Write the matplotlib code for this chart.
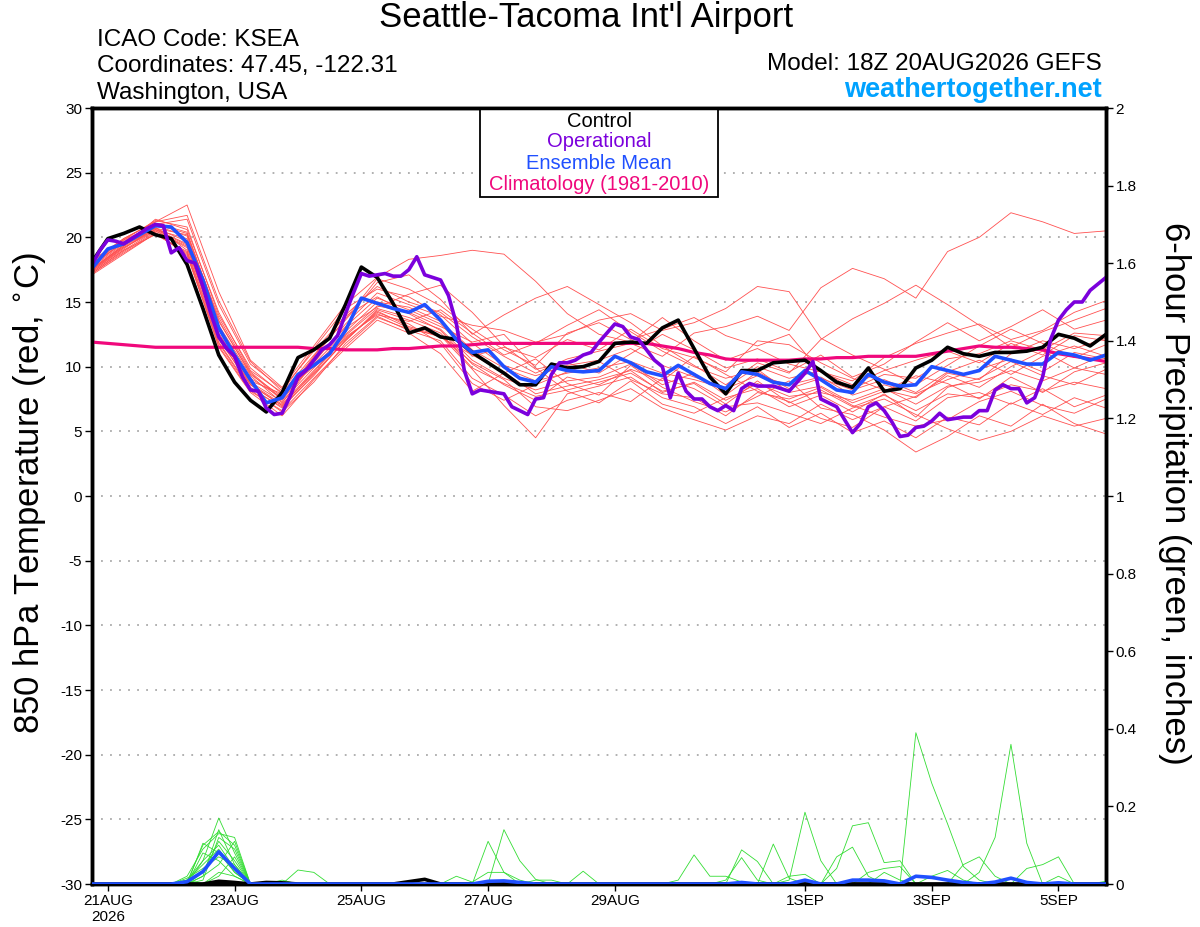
import numpy as np
import pandas as pd
import matplotlib
matplotlib.use('Agg')
import matplotlib.pyplot as plt
from matplotlib.patches import Rectangle

plt.rcParams['font.family'] = ['Liberation Sans', 'DejaVu Sans']
plt.rcParams['axes.unicode_minus'] = False
NARROW = ['Liberation Sans Narrow', 'Liberation Sans', 'DejaVu Sans']

# ---------------- data ----------------
t6 = pd.date_range('2026-08-20 18:00', periods=65, freq='6h')
t3 = pd.date_range('2026-08-20 18:00', periods=129, freq='3h')
t12 = pd.date_range('2026-08-20 18:00', periods=33, freq='12h')

control_t = [18.1, 19.9, 20.3, 20.8, 20.2, 19.9, 17.9, 14.5, 10.9, 8.8,
             7.4, 6.5, 8.0, 10.7, 11.3, 12.2, 14.8, 17.7, 16.9, 14.9,
             12.6, 13.0, 12.3, 12.1, 11.1, 10.3, 9.5, 8.6, 8.6, 10.2,
             9.9, 10.0, 10.4, 11.8, 11.9, 11.8, 13.0, 13.6, 11.4, 9.2,
             7.9, 9.7, 9.7, 10.3, 10.4, 10.5, 9.7, 8.8, 8.4, 9.9,
             8.1, 8.3, 9.9, 10.5, 11.5, 11.0, 10.8, 11.1, 11.1, 11.2,
             11.5, 12.5, 12.2, 11.6, 12.5]

mean_t = [17.6, 19.1, 19.5, 20.2, 20.9, 20.8, 19.6, 16.7, 13.0, 10.9,
          9.0, 7.2, 7.6, 9.4, 10.1, 11.0, 12.8, 15.3, 14.9, 14.5,
          14.2, 14.8, 13.6, 12.1, 11.1, 11.3, 10.0, 9.1, 8.8, 10.0,
          9.7, 9.6, 9.7, 10.8, 10.3, 9.6, 9.3, 10.1, 9.4, 8.7,
          8.3, 9.6, 9.4, 8.8, 8.6, 9.7, 9.0, 8.2, 8.0, 9.4,
          8.8, 8.5, 8.6, 10.0, 9.7, 9.4, 9.7, 10.8, 10.5, 10.2,
          10.2, 11.1, 10.9, 10.5, 10.9]

clim_t = [11.9, 11.8, 11.7, 11.6, 11.5, 11.5, 11.5, 11.5, 11.5, 11.5,
          11.5, 11.5, 11.5, 11.5, 11.4, 11.4, 11.3, 11.3, 11.3, 11.4,
          11.4, 11.5, 11.6, 11.6, 11.7, 11.8, 11.8, 11.8, 11.8, 11.8,
          11.8, 11.8, 11.8, 11.8, 11.8, 11.8, 11.6, 11.4, 11.1, 10.9,
          10.6, 10.5, 10.5, 10.5, 10.5, 10.6, 10.6, 10.7, 10.7, 10.8,
          10.8, 10.8, 10.8, 11.0, 11.2, 11.4, 11.6, 11.5, 11.5, 11.4,
          11.3, 11.0, 10.8, 10.6, 10.4]

# operational run, 3-hourly
oper_t = [17.9, 19.0, 19.8, 19.7, 19.5, 19.9, 20.3, 20.7, 21.0, 20.9,
          18.8, 19.2, 18.2, 18.0, 16.2, 14.1, 12.3, 11.4, 10.8, 9.2,
          8.2, 8.1, 6.8, 6.3, 6.4, 7.7, 9.2, 9.7, 10.5, 11.3,
          11.7, 12.4, 14.1, 15.7, 17.2, 17.0, 17.1, 17.2, 17.0, 17.0,
          17.5, 18.5, 17.1, 16.9, 16.7, 15.5, 13.3, 9.7, 7.9, 8.2,
          8.1, 8.0, 7.9, 6.9, 6.6, 6.3, 7.5, 7.6, 9.4, 10.3,
          10.3, 10.5, 10.9, 11.1, 11.9, 12.6, 13.3, 13.1, 12.3, 12.1,
          11.3, 10.5, 10.0, 7.6, 9.5, 8.1, 7.5, 7.5, 6.9, 6.6,
          7.0, 6.6, 8.3, 8.7, 8.5, 8.5, 8.5, 8.3, 8.1, 8.8,
          9.5, 10.4, 7.5, 7.2, 6.9, 5.9, 4.9, 5.6, 6.9, 7.2,
          6.6, 5.7, 4.6, 4.7, 5.3, 5.4, 5.8, 6.4, 5.9, 6.0,
          6.1, 6.1, 6.6, 6.6, 8.2, 8.6, 8.3, 8.3, 7.2, 7.6,
          9.2, 12.1, 13.6, 14.4, 15.0, 15.0, 15.9, 16.4, 16.9]

# ensemble members, 12-hourly
m01 = [17.9, 19.6, 20.7, 20.2, 13.8, 9.6, 7.5, 10.8, 14.0, 16.2, 15.0, 14.2, 12.3, 10.8, 9.5, 10.6, 11.2,
       11.8, 10.8, 12.6, 13.1, 13.9, 12.8, 16.1, 17.6, 16.8, 15.3, 18.9, 20.0, 21.9, 21.2, 20.3, 20.5]
m02 = [18.2, 19.9, 21.2, 22.5, 15.8, 10.5, 8.4, 11.6, 14.8, 16.9, 18.3, 18.6, 19.0, 18.7, 16.6, 14.1, 12.5,
       11.9, 13.8, 12.0, 10.5, 11.4, 10.2, 9.6, 8.9, 10.7, 11.8, 12.6, 13.3, 12.1, 12.8, 14.2, 15.1]
m03 = [17.3, 19.0, 20.5, 19.3, 12.3, 8.4, 6.8, 9.4, 12.0, 14.3, 13.1, 12.4, 9.8, 7.0, 4.5, 7.9, 8.5,
       9.2, 7.6, 6.9, 5.6, 6.9, 5.3, 6.4, 4.9, 5.8, 4.5, 6.1, 5.5, 7.2, 6.3, 7.6, 6.8]
m04 = [17.6, 19.3, 21.4, 20.6, 14.2, 9.7, 8.0, 10.9, 13.6, 16.5, 17.1, 15.2, 12.5, 14.0, 15.3, 16.2, 14.8,
       13.4, 11.6, 10.1, 8.6, 10.3, 9.5, 12.1, 13.7, 14.9, 16.3, 14.8, 13.2, 11.5, 12.7, 13.6, 14.5]
m05 = [17.1, 18.7, 20.3, 18.8, 11.5, 8.0, 6.2, 9.0, 11.4, 13.6, 12.6, 11.0, 8.1, 9.5, 10.6, 8.7, 7.8,
       10.1, 8.4, 7.3, 6.5, 7.7, 8.9, 6.8, 6.3, 5.1, 3.4, 4.6, 6.2, 5.4, 7.1, 5.6, 4.8]
m06 = [18.0, 19.8, 20.9, 20.1, 13.2, 9.3, 7.2, 10.3, 13.3, 15.7, 14.8, 13.9, 13.2, 12.8, 11.9, 12.5, 13.6,
       14.1, 12.8, 13.4, 14.5, 16.2, 15.8, 12.2, 10.9, 9.8, 8.6, 10.1, 11.6, 12.9, 11.8, 10.7, 11.7]
m07 = [17.5, 19.4, 20.6, 19.9, 12.9, 8.9, 7.9, 10.0, 12.5, 14.7, 14.2, 13.1, 11.9, 12.5, 9.9, 8.1, 7.2,
       8.9, 7.1, 6.4, 7.6, 8.3, 6.9, 7.8, 6.5, 7.9, 6.1, 8.4, 9.1, 10.4, 9.3, 8.6, 9.8]
m08 = [17.4, 19.1, 20.8, 19.0, 12.1, 8.6, 7.0, 9.6, 12.3, 14.0, 13.5, 14.4, 12.6, 10.9, 11.8, 13.2, 14.4,
       12.7, 11.2, 10.0, 9.1, 9.8, 8.0, 8.5, 7.2, 8.1, 9.3, 8.7, 7.5, 9.2, 8.0, 9.6, 10.3]
m09 = [17.8, 19.7, 21.0, 21.4, 14.8, 10.2, 8.3, 11.2, 13.9, 15.4, 14.1, 12.8, 10.2, 8.6, 7.4, 9.2, 8.6,
       9.8, 8.9, 10.8, 9.4, 8.1, 7.3, 6.0, 5.3, 6.9, 7.7, 9.3, 8.4, 10.0, 11.2, 9.9, 11.0]
m10 = [17.2, 18.9, 20.4, 18.6, 11.8, 8.2, 6.5, 8.8, 11.8, 13.9, 12.8, 12.0, 9.1, 7.8, 6.2, 7.4, 8.0,
       7.3, 9.1, 8.3, 6.9, 7.2, 6.4, 5.6, 6.8, 7.5, 6.3, 5.2, 4.3, 5.0, 6.2, 5.4, 6.0]
m11 = [17.7, 19.5, 21.1, 20.4, 13.6, 9.4, 7.7, 10.6, 13.0, 14.6, 15.6, 16.3, 14.2, 11.6, 9.8, 10.3, 9.5,
       11.0, 12.5, 11.3, 9.9, 10.6, 9.6, 10.9, 9.2, 10.2, 11.9, 13.4, 12.0, 13.1, 14.4, 12.9, 13.6]
m12 = [17.5, 19.2, 20.6, 19.5, 12.6, 8.8, 7.3, 9.9, 12.4, 14.5, 13.8, 12.9, 10.5, 9.1, 8.2, 8.9, 9.2,
       10.2, 8.6, 9.5, 7.8, 9.6, 8.3, 9.1, 8.2, 9.0, 8.0, 9.6, 10.5, 9.4, 10.8, 11.6, 10.8]
m13 = [17.3, 19.0, 20.2, 18.9, 11.9, 8.3, 6.9, 9.3, 12.1, 14.2, 13.3, 11.8, 8.7, 7.4, 8.6, 9.6, 10.4,
       9.0, 7.9, 7.6, 6.2, 8.0, 7.5, 8.4, 7.0, 6.1, 5.4, 5.9, 7.3, 8.1, 7.0, 6.4, 7.5]
m14 = [17.9, 19.8, 21.3, 20.8, 14.0, 9.9, 7.9, 10.7, 13.7, 16.8, 16.0, 14.7, 12.9, 11.3, 10.1, 12.6, 13.4,
       12.1, 12.9, 13.8, 12.4, 11.6, 12.5, 9.6, 8.6, 9.7, 10.5, 11.2, 10.3, 11.8, 10.9, 12.4, 12.0]
m15 = [17.6, 19.4, 20.7, 19.7, 13.0, 9.1, 7.6, 10.2, 12.7, 15.0, 14.6, 13.5, 11.3, 9.9, 8.9, 9.5, 9.9,
       10.4, 9.5, 9.0, 8.3, 9.3, 8.6, 9.2, 7.8, 8.6, 7.9, 9.0, 9.8, 10.6, 9.6, 11.1, 10.6]
m16 = [17.4, 19.2, 20.5, 19.2, 12.4, 8.7, 7.1, 9.7, 12.2, 14.1, 13.0, 12.3, 10.9, 9.6, 7.9, 8.5, 9.0,
       9.7, 8.0, 8.8, 7.4, 8.7, 7.7, 8.0, 7.4, 8.3, 7.1, 8.5, 8.8, 9.7, 8.9, 9.9, 9.4]
m17 = [17.8, 19.6, 21.0, 20.3, 13.5, 9.5, 7.4, 10.4, 13.1, 15.3, 14.4, 13.3, 10.8, 11.5, 10.7, 12.1, 11.3,
       12.9, 11.4, 10.7, 9.6, 12.0, 11.7, 10.3, 9.1, 8.2, 7.6, 9.5, 9.0, 11.0, 12.0, 11.4, 12.2]
m18 = [17.2, 18.8, 20.3, 18.7, 11.6, 8.1, 6.6, 9.1, 11.6, 13.8, 12.9, 12.4, 10.3, 9.0, 6.9, 6.6, 7.4,
       8.3, 6.8, 5.9, 5.1, 6.2, 5.6, 7.1, 5.9, 6.9, 5.8, 7.6, 8.0, 7.1, 8.3, 6.9, 7.8]
m19 = [18.1, 19.9, 21.2, 21.7, 15.1, 10.4, 8.1, 11.4, 14.5, 16.0, 15.4, 14.0, 11.8, 10.1, 9.3, 10.1, 10.5,
       11.4, 10.1, 9.2, 8.4, 10.0, 9.1, 9.7, 8.3, 9.4, 9.1, 10.6, 11.0, 12.0, 11.3, 12.6, 12.4]
m20 = [17.5, 19.3, 20.6, 19.4, 12.5, 8.6, 7.0, 9.5, 12.0, 14.4, 13.6, 12.6, 9.9, 8.7, 7.7, 8.2, 8.8,
       9.5, 8.1, 8.7, 7.1, 8.9, 7.2, 8.2, 6.9, 7.8, 6.6, 7.9, 7.6, 8.6, 8.1, 8.8, 8.3]
members_t = [m01, m02, m03, m04, m05, m06, m07, m08, m09, m10,
             m11, m12, m13, m14, m15, m16, m17, m18, m19, m20]

# 6-hour precipitation (inches), members, 6-hourly
g01 = [0, 0, 0, 0, 0,  0, .01, .06, .17, .08,  0, 0, 0, .036, .03,  0, 0, 0, 0, 0,
       0, 0, 0, 0, 0,  0, 0, 0, 0, 0,  0, 0, 0, 0, 0,  0, 0, 0, 0, 0,
       0, 0, 0, 0, 0,  0, 0, 0, 0, 0,  0, 0, .39, .26, .155,  .045, .01, 0, 0, 0,  0, 0, 0, 0, 0]
g02 = [0, 0, 0, 0, 0,  0, .005, .10, .135, .10,  0, 0, .01, 0, 0,  0, 0, 0, 0, 0,
       0, 0, 0, 0, 0,  0, 0, 0, 0, 0,  0, 0, 0, 0, 0,  0, 0, 0, 0, 0,
       0, 0, 0, 0, 0,  0, 0, 0, 0, 0,  0, 0, 0, .02, .035,  .01, 0, 0, 0, 0,  0, 0, 0, 0, 0]
g03 = [0, 0, 0, 0, 0,  0, .02, .09, .13, .12,  0, 0, 0, 0, 0,  0, 0, 0, 0, 0,
       0, 0, 0, 0, 0,  .11, .03, 0, 0, 0,  0, 0, 0, 0, 0,  0, 0, 0, 0, 0,
       0, 0, 0, 0, 0,  0, 0, 0, 0, 0,  0, 0, 0, 0, 0,  .05, .07, .02, 0, 0,  0, 0, 0, 0, 0]
g04 = [0, 0, 0, 0, 0,  0, 0, .03, .11, .06,  0, 0, 0, 0, 0,  0, 0, 0, 0, 0,
       0, 0, 0, 0, 0,  0, .14, .06, .012, 0,  0, 0, 0, 0, 0,  0, 0, 0, 0, 0,
       0, 0, 0, 0, 0,  0, 0, 0, 0, 0,  0, 0, 0, 0, 0,  0, .03, .12, .36, .105,  0, 0, 0, 0, 0]
g05 = [0, 0, 0, 0, 0,  0, .01, .05, .09, .03,  0, 0, 0, 0, 0,  0, 0, 0, 0, 0,
       0, 0, 0, .02, .005,  .03, .03, .01, 0, 0,  0, 0, 0, 0, 0,  0, 0, 0, 0, 0,
       0, 0, 0, 0, 0,  0, 0, 0, 0, 0,  0, 0, 0, 0, 0,  0, 0, 0, 0, .04,  .05, .07, 0, 0, 0]
g06 = [0, 0, 0, 0, 0,  0, 0, .08, .06, .02,  0, 0, 0, 0, 0,  0, 0, 0, 0, 0,
       0, 0, 0, 0, 0,  0, 0, 0, 0, 0,  0, .033, 0, 0, 0,  0, 0, 0, 0, 0,
       0, 0, 0, 0, 0,  0, 0, 0, 0, 0,  .03, .01, 0, 0, 0,  0, 0, 0, 0, 0,  0, .02, 0, 0, .007]
g07 = [0, 0, 0, 0, 0,  0, 0, .01, .12, .09,  0, 0, 0, 0, 0,  0, 0, 0, 0, 0,
       0, 0, 0, 0, 0,  0, 0, 0, .01, .01,  0, 0, 0, 0, 0,  0, 0, 0, 0, 0,
       0, 0, 0, 0, .02,  .025, 0, 0, 0, .03,  .04, .045, 0, 0, 0,  0, 0, 0, 0, 0,  0, 0, 0, 0, 0]
g08 = [0, 0, 0, 0, 0,  0, .015, .04, .07, .05,  0, 0, 0, 0, 0,  0, 0, 0, 0, 0,
       0, 0, 0, 0, 0,  0, 0, 0, 0, 0,  0, 0, 0, 0, 0,  0, 0, .01, .075, .02,
       .02, .005, 0, 0, 0,  0, 0, 0, 0, 0,  0, 0, 0, 0, 0,  0, 0, 0, 0, 0,  0, 0, 0, 0, 0]
g09 = [0, 0, 0, 0, 0,  0, 0, .02, .05, .11,  0, 0, 0, 0, 0,  0, 0, 0, 0, 0,
       0, 0, 0, 0, 0,  0, 0, 0, 0, 0,  0, 0, 0, 0, 0,  0, 0, 0, 0, 0,
       0, .088, .058, 0, 0,  0, 0, 0, 0, 0,  0, 0, 0, 0, 0,  0, 0, 0, 0, 0,  0, 0, 0, 0, 0]
g10 = [0, 0, 0, 0, 0,  0, 0, .06, .10, .04,  0, 0, 0, 0, 0,  0, 0, 0, 0, 0,
       0, 0, 0, 0, 0,  0, 0, 0, 0, 0,  0, 0, 0, 0, 0,  0, 0, 0, 0, 0,
       0, 0, 0, .103, .015,  0, 0, 0, 0, 0,  0, 0, 0, 0, 0,  0, 0, 0, 0, 0,  0, 0, 0, 0, 0]
g11 = [0, 0, 0, 0, 0,  0, 0, 0, .03, .02,  0, 0, 0, 0, 0,  0, 0, 0, 0, 0,
       0, 0, 0, 0, 0,  0, 0, 0, 0, 0,  0, 0, 0, 0, 0,  0, 0, 0, 0, 0,
       .01, .068, .01, 0, 0,  0, 0, 0, 0, 0,  0, 0, 0, 0, 0,  0, 0, 0, 0, 0,  0, 0, 0, 0, 0]
g12 = [0, 0, 0, 0, 0,  0, 0, .105, .08, .03,  0, 0, 0, 0, 0,  0, 0, 0, 0, 0,
       0, 0, 0, 0, 0,  0, 0, 0, 0, 0,  0, 0, 0, 0, 0,  0, 0, 0, 0, 0,
       0, 0, 0, 0, .01,  .185, .06, 0, 0, 0,  0, 0, 0, 0, 0,  0, 0, 0, 0, 0,  0, 0, 0, 0, 0]
g13 = [0, 0, 0, 0, 0,  0, .01, 0, .02, .07,  0, 0, 0, 0, 0,  0, 0, 0, 0, 0,
       0, 0, 0, 0, 0,  0, 0, 0, 0, 0,  0, 0, 0, 0, 0,  0, 0, 0, 0, 0,
       0, 0, 0, 0, 0,  0, 0, .07, .095, .02,  0, 0, 0, 0, 0,  0, 0, 0, 0, 0,  0, 0, 0, 0, 0]
g14 = [0, 0, 0, 0, 0,  0, 0, .02, .14, .05,  0, 0, 0, 0, 0,  0, 0, 0, 0, 0,
       0, 0, 0, 0, 0,  0, 0, 0, 0, 0,  0, 0, 0, 0, 0,  0, 0, 0, 0, 0,
       0, 0, 0, 0, 0,  0, 0, .04, .15, .158,  .055, .06, 0, 0, 0,  0, 0, 0, 0, 0,  0, 0, 0, 0, 0]
members_p = [g01, g02, g03, g04, g05, g06, g07, g08, g09, g10, g11, g12, g13, g14]

mean_p = [0, 0, 0, 0, 0,  0, .006, .032, .083, .04,  0, 0, 0, 0, 0,  0, 0, 0, 0, 0,
          0, 0, 0, 0, 0,  .007, .008, .004, 0, 0,  0, 0, 0, 0, 0,  0, 0, 0, 0, 0,
          0, .004, 0, 0, 0,  .01, 0, 0, .01, .01,  .008, 0, .02, .017, .01,
          .004, 0, .005, .015, .004,  0, .003, 0, 0, 0]
control_p = [0, 0, 0, 0, 0,  0, 0, 0, .007, .004,  0, .004, .003, 0, 0,  0, 0, 0, 0, 0,
             .006, .012, 0, 0, 0,  0, 0, 0, 0, 0,  0, 0, 0, 0, 0,  0, 0, 0, 0, 0,
             0, 0, 0, 0, 0,  0, 0, 0, 0, 0,  0, 0, 0, 0, 0,  0, 0, 0, 0, 0,  0, 0, 0, 0, 0]

tick_days = ['2026-08-21', '2026-08-23', '2026-08-25', '2026-08-27', '2026-08-29',
             '2026-09-01', '2026-09-03', '2026-09-05']
tick_labels = ['21AUG\n2026', '23AUG', '25AUG', '27AUG', '29AUG', '1SEP', '3SEP', '5SEP']

# ---------------- colours ----------------
C_MEMBER = '#ff5050'
C_PRECIP = '#33dd33'
C_OPER = '#7b00dc'
C_MEAN = '#2050ff'
C_CLIM = '#f0087c'

# ---------------- figure ----------------
fig = plt.figure(figsize=(12, 9.27), dpi=100)
ax = fig.add_axes([92 / 1200, 43 / 927, 1014 / 1200, 776 / 927])
ax2 = ax.twinx()

for m in members_t:
    ax.plot(t12, m, color=C_MEMBER, lw=0.6, zorder=2)
ax.plot(t6, clim_t, color=C_CLIM, lw=2.3, zorder=3)
ax.plot(t6, control_t, color='black', lw=2.6, zorder=4)
ax.plot(t6, mean_t, color=C_MEAN, lw=2.6, zorder=5)
ax.plot(t3, oper_t, color=C_OPER, lw=2.6, zorder=6)

for g in members_p:
    ax2.plot(t6, g, color=C_PRECIP, lw=0.6, zorder=2)
ax2.plot(t6, control_p, color='black', lw=2.6, zorder=3)
ax2.plot(t6, mean_p, color=C_MEAN, lw=2.6, zorder=4)

ax.set_xlim(t6[0], t6[-1])
ax.set_ylim(-30, 30)
ax2.set_ylim(0, 2)
ax.set_yticks(np.arange(-30, 31, 5))
ax2.set_yticks(np.arange(0, 2.01, 0.2))
ax2.set_yticklabels(['0', '0.2', '0.4', '0.6', '0.8', '1', '1.2', '1.4', '1.6', '1.8', '2'])
ax.set_xticks(pd.to_datetime(tick_days))
ax.set_xticklabels(tick_labels)
ax.grid(axis='y', color='#aaaaaa', linestyle=(0, (1, 4)), lw=1.3)

for a in (ax, ax2):
    for s in a.spines.values():
        s.set_linewidth(2.5)
    a.tick_params(direction='out', length=5, width=1, labelsize=11, pad=2)
    for lab in a.get_xticklabels() + a.get_yticklabels():
        lab.set_family(NARROW)
for lab in ax.get_xticklabels():
    lab.set_horizontalalignment('center')
    lab.set_verticalalignment('top')
    lab.set_multialignment('center')

# legend box
ax.add_patch(Rectangle((0.3826, 0.885), 0.2347, 0.115, transform=ax.transAxes,
                       fill=True, facecolor='white', edgecolor='black', lw=1.3, zorder=10))
for yy, txt, col in [(0.983, 'Control', 'black'), (0.957, 'Operational', C_OPER),
                     (0.929, 'Ensemble Mean', C_MEAN), (0.901, 'Climatology (1981-2010)', C_CLIM)]:
    ax.text(0.5, yy, txt, color=col, fontsize=14.5, ha='center', va='center',
            transform=ax.transAxes, zorder=11)

# titles and headers
fig.text(586 / 1200, 1 - 18 / 927, "Seattle-Tacoma Int'l Airport", fontsize=25, ha='center', va='center')
fig.text(97 / 1200, 1 - 40 / 927, 'ICAO Code: KSEA', fontsize=17.5, va='center')
fig.text(97 / 1200, 1 - 66 / 927, 'Coordinates: 47.45, -122.31', fontsize=17.5, va='center')
fig.text(97 / 1200, 1 - 93 / 927, 'Washington, USA', fontsize=17.5, va='center')
fig.text(1102 / 1200, 1 - 64 / 927, 'Model: 18Z 20AUG2026 GEFS', fontsize=17.5, ha='right', va='center')
fig.text(1102 / 1200, 1 - 90 / 927, 'weathertogether.net', fontsize=19.5, fontweight='bold',
         color='#00a2ff', ha='right', va='center')

fig.text(30 / 1200, 1 - 493 / 927, '850 hPa Temperature (red, $^{\\circ}$C)', fontsize=25,
         rotation=90, ha='center', va='center')
fig.text(1175 / 1200, 1 - 493 / 927, '6-hour Precipitation (green, inches)', fontsize=25,
         rotation=270, ha='center', va='center')

fig.savefig('out.png', dpi=100)
